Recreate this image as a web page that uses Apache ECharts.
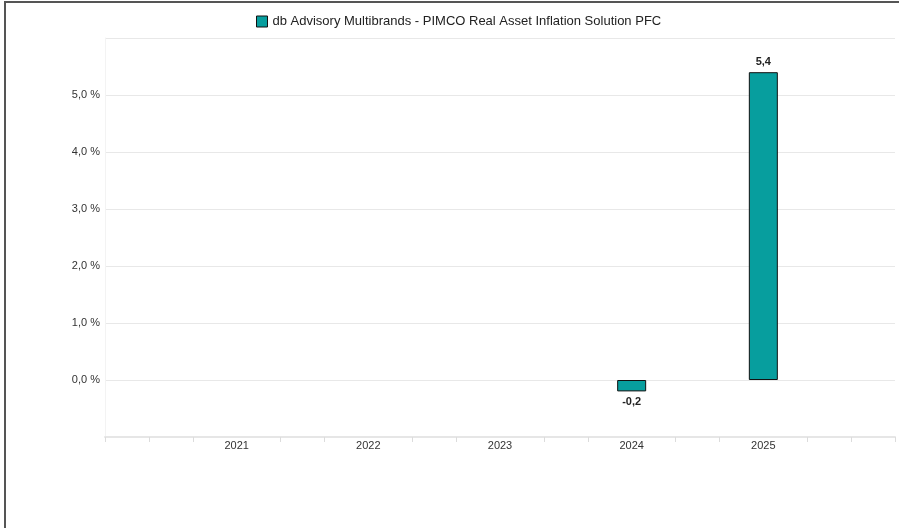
<!DOCTYPE html>
<html>
<head>
<meta charset="utf-8">
<script src="https://cdn.jsdelivr.net/npm/echarts@6/dist/echarts.min.js"></script>
<style>
html,body{margin:0;padding:0;background:#fff;}
#frame{position:absolute;left:4px;top:1px;width:1000px;height:600px;border-left:2px solid #555;border-top:2px solid #555;}
#chart{position:absolute;left:0;top:0;width:899px;height:528px;}
</style>
</head>
<body>
<div id="frame"></div>
<div id="chart"></div>
<script>
const seriesName = 'db Advisory Multibrands - PIMCO Real Asset Inflation Solution PFC';
const years = [2021, 2022, 2023, 2024, 2025];
const yearsWithData = [2024, 2025];
const values = [-0.2, 5.4];
const yTicks = [0, 1, 2, 3, 4, 5];

const fmt = v => v.toFixed(1).replace('.', ',');
const barData = yearsWithData.map((y, i) => ({
  value: [y, values[i]],
  label: { position: values[i] < 0 ? 'bottom' : 'top' }
}));

const chart = echarts.init(document.getElementById('chart'), null, {renderer: 'canvas'});
chart.setOption({
  animation: false,
  backgroundColor: 'transparent',
  textStyle: { fontFamily: 'Liberation Sans, Arial, sans-serif' },
  legend: {
    top: 10,
    left: 251,
    itemWidth: 11,
    itemHeight: 11,
    itemGap: 5,
    icon: 'rect',
    textStyle: { fontSize: 13, color: '#222', fontFamily: 'Liberation Sans, Arial, sans-serif' },
    data: [{ name: seriesName, itemStyle: { color: '#079e9e', borderColor: '#111', borderWidth: 1 } }]
  },
  grid: { left: 105, right: 4, top: 38, bottom: 91, containLabel: false },
  xAxis: [{
    type: 'value',
    min: years[0] - 1,
    max: years[years.length - 1] + 1,
    interval: 1,
    axisLine: { show: true, onZero: false, lineStyle: { color: '#e6e6e6', width: 2 } },
    axisTick: { show: false },
    minorTick: { show: true, splitNumber: 3, length: 5, lineStyle: { color: '#dcdcdc', width: 1 } },
    splitLine: { show: false },
    axisLabel: {
      margin: 3,
      fontSize: 11,
      color: '#333',
      formatter: v => years.includes(v) ? String(v) : ''
    }
  }, {
    type: 'value',
    min: years[0] - 1,
    max: years[years.length - 1] + 1,
    interval: years.length + 1,
    position: 'bottom',
    axisLine: { show: false, onZero: false },
    axisTick: { show: true, length: 5, lineStyle: { color: '#dcdcdc' } },
    axisLabel: { show: false },
    splitLine: { show: false }
  }],
  yAxis: {
    type: 'value',
    min: -1,
    max: 6,
    interval: 1,
    axisLine: { show: true, lineStyle: { color: '#f3f3f3' } },
    axisTick: { show: false },
    splitLine: { show: true, lineStyle: { color: '#e8e8e8', width: 1 } },
    axisLabel: {
      margin: 5,
      fontSize: 11,
      color: '#333',
      formatter: v => yTicks.includes(v) ? fmt(v) + ' %' : ''
    }
  },
  series: [{
    name: seriesName,
    type: 'bar',
    xAxisIndex: 0,
    barWidth: 29,
    data: barData,
    itemStyle: { color: '#079e9e', borderColor: '#111', borderWidth: 1 },
    label: {
      show: true,
      fontSize: 11,
      fontWeight: 'bold',
      color: '#222',
      distance: 5,
      formatter: p => fmt(p.value[1])
    }
  }]
});
</script>
</body>
</html>
